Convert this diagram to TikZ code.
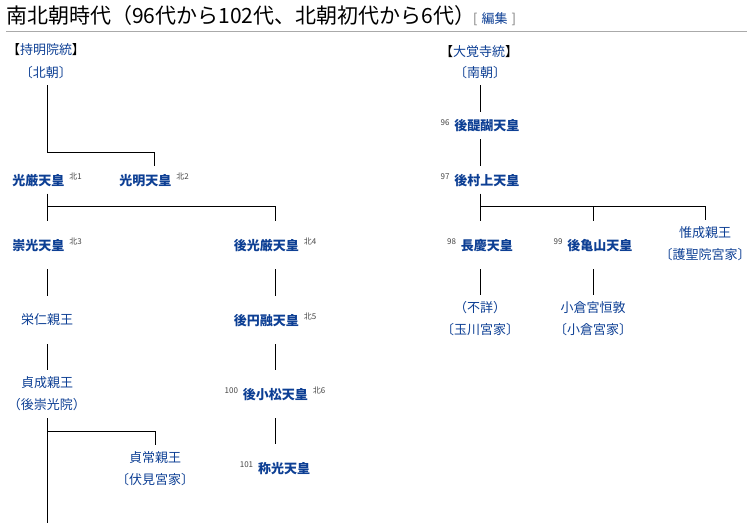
\documentclass[tikz,border=0pt]{standalone}
\usepackage{fontspec}
\setmainfont{Noto Sans CJK JP}
\usetikzlibrary{calc}
\definecolor{lk}{HTML}{0D3F94}
\definecolor{supg}{HTML}{444444}
\definecolor{rulec}{HTML}{AAAAAA}
\newcommand\kita[1]{\hspace{5pt}\raisebox{5.5pt}{\fontsize{8}{8}\selectfont\mdseries\color{supg}北#1}}
\newcommand\dai[1]{\raisebox{5.5pt}{\fontsize{8}{8}\selectfont\mdseries\color{supg}#1}\hspace{5pt}}
\newcommand\lbk[1]{{\addfontfeatures{RawFeature=+halt}#1}}
\newcommand\rbk[1]{{\addfontfeatures{RawFeature=+halt}#1}}
\begin{document}
\begin{tikzpicture}[x=1pt,y=-1pt,
  base/.style={inner sep=0pt, text=lk, font=\fontsize{13}{22}\selectfont, align=center},
  emp/.style={base, font=\bfseries\fontsize{13}{22}\selectfont},
  shortbox/.style={minimum height=27pt},
  tallbox/.style={minimum height=48pt},
  hdrbox/.style={minimum height=24pt},
  conn/.style={line width=1pt, black}]
\useasboundingbox (0,0) rectangle (747,523);
% title
\node[anchor=west, inner sep=0pt, font=\fontsize{21}{24}\selectfont] (title) at (6,16) {南北朝時代（96代から102代、北朝初代から6代）};
\node[anchor=west, inner sep=0pt, font=\fontsize{13}{14}\selectfont, text=rulec!70!black] (edit) at (473,19) {[\hspace{4pt}\textcolor{lk}{編集}\hspace{4pt}]};
\coordinate (r1) at (6,31);
\coordinate (r2) at (747,31);
\draw[rulec, line width=1pt] (r1) -- (r2);
% left
\node[base] (jimyo) at (46,50) {\textcolor{black}{\lbk{【}}持明院統\textcolor{black}{\rbk{】}}};
\node[base, hdrbox] (hokucho) at (46,73) {\lbk{〔}北朝\rbk{〕}};
\node[emp, shortbox] (kogon) at (47,180) {光厳天皇\kita{1}};
\node[emp, shortbox] (komyo) at (154,180) {光明天皇\kita{2}};
\node[emp, tallbox] (suko) at (47,245) {崇光天皇\kita{3}};
\node[emp, tallbox] (gokogon) at (275,245) {後光厳天皇\kita{4}};
\node[base, tallbox] (eijin) at (47,320) {栄仁親王};
\node[emp, tallbox] (goenyu) at (275,320) {後円融天皇\kita{5}};
\node[base, tallbox] (sadafusa) at (47,394) {貞成親王\\\lbk{（}後崇光院\rbk{）}};
\node[emp, tallbox] (gokomatsu) at (275,394) {\dai{100}後小松天皇\kita{6}};
\node[base, tallbox] (sadatsune) at (155,469) {貞常親王\\\lbk{〔}伏見宮家\rbk{〕}};
\node[emp, tallbox] (shoko) at (275,468) {\dai{101}称光天皇};
\coordinate (b1) at (47,152);
\coordinate (b2) at (47,206);
\coordinate (b3) at (47,431);
\coordinate (bot) at (47,523);
\draw[conn] (hokucho.south -| b1) -- (b1) -| (komyo.north);
\draw[conn] (kogon.south) -- (suko.north);
\draw[conn] (b2) -| (gokogon.north);
\draw[conn] (suko.south) -- (eijin.north);
\draw[conn] (eijin.south) -- (sadafusa.north);
\draw[conn] (sadafusa.south) -- (bot);
\draw[conn] (b3) -| (sadatsune.north);
\draw[conn] (gokogon.south) -- (goenyu.north);
\draw[conn] (goenyu.south) -- (gokomatsu.north);
\draw[conn] (gokomatsu.south) -- (shoko.north);
% right
\node[base] (daikaku) at (479,52) {\textcolor{black}{\lbk{【}}大覚寺統\textcolor{black}{\rbk{】}}};
\node[base, hdrbox] (nancho) at (480,73) {\lbk{〔}南朝\rbk{〕}};
\node[emp, shortbox] (godaigo) at (480,125.5) {\dai{96}後醍醐天皇};
\node[emp, shortbox] (gomurakami) at (480,180) {\dai{97}後村上天皇};
\node[emp, tallbox] (chokei) at (480,245) {\dai{98}長慶天皇};
\node[emp, tallbox] (gokameyama) at (593,245) {\dai{99}後亀山天皇};
\node[base, tallbox] (korenari) at (705,244) {惟成親王\\\lbk{〔}護聖院宮家\rbk{〕}};
\node[base, tallbox] (fusho) at (480,319) {\lbk{（}不詳\rbk{）}\\\lbk{〔}玉川宮家\rbk{〕}};
\node[base, tallbox] (ogura) at (593,319) {小倉宮恒敦\\\lbk{〔}小倉宮家\rbk{〕}};
\coordinate (b4) at (480,206);
\draw[conn] (nancho.south) -- (godaigo.north);
\draw[conn] (godaigo.south) -- (gomurakami.north);
\draw[conn] (gomurakami.south) -- (chokei.north);
\draw[conn] (b4) -| (korenari.north);
\draw[conn] (b4 -| gokameyama.north) -- (gokameyama.north);
\draw[conn] (chokei.south) -- (fusho.north);
\draw[conn] (gokameyama.south) -- (ogura.north);
\end{tikzpicture}
\end{document}
